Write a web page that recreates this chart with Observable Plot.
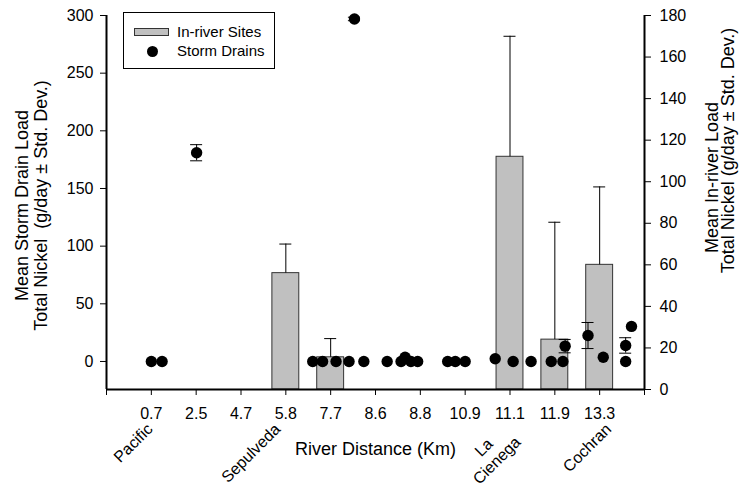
<!DOCTYPE html>
<html>
<head>
<meta charset="utf-8">
<script src="https://cdn.jsdelivr.net/npm/d3@7"></script>
<script src="https://cdn.jsdelivr.net/npm/@observablehq/plot@0.6"></script>
<style>
  html, body { margin: 0; padding: 0; background: white; }
  #wrap { position: relative; width: 740px; height: 487px; font-family: "Liberation Sans", Arial, sans-serif; }
  #legend { position: absolute; left: 123px; top: 12px; width: 150px; height: 55px; border: 1px solid black; background: white; font-size: 15px; }
  #legend .sw { position: absolute; left: 10px; top: 15px; width: 33px; height: 6px; background: #c0c0c0; border: 1px solid #333; }
  #legend .dot { position: absolute; left: 23px; top: 33px; width: 11px; height: 11px; border-radius: 50%; background: black; }
  #legend .t1 { position: absolute; left: 53px; top: 10px; }
  #legend .t2 { position: absolute; left: 53px; top: 29px; }
</style>
</head>
<body>
<div id="wrap"></div>
<script>
// x-axis tick labels (river distance, km) at index positions 1..11
const xLabels = ["0.7", "2.5", "4.7", "5.8", "7.7", "8.6", "8.8", "10.9", "11.1", "11.9", "13.3"];

// In-river sites (right axis, g/day)
const inriverSite = ["5.8", "7.7", "11.1", "11.9", "13.3"];
const inriverMean = [56, 15.5, 112, 24, 60];
const inriverSD   = [14, 9, 58, 56.5, 37.5];

// Storm drains (left axis, g/day); position in axis index units
const drainPos  = [1.0, 1.24, 2.01, 4.60, 4.82, 5.12, 5.41, 5.53, 5.74, 6.26, 6.57, 6.66, 6.79, 6.94, 7.61, 7.78, 8.0, 8.67, 9.07, 9.47, 9.92, 10.18, 10.23, 10.74, 11.08, 11.58, 11.58, 11.71];
const drainMean = [0, 0, 181, 0, 0, 0, 0, 297, 0, 0, 0, 3.7, 0, 0, 0, 0, 0, 2.3, 0, 0, 0, 0, 13.3, 22.5, 3.7, 13.9, 0, 30.4];
const drainSD   = [0, 0, 7, 0, 0, 0, 0, 1.5, 0, 0, 0, 0, 0, 0, 0, 0, 0, 0, 0, 0, 0, 0, 5.8, 11.3, 0, 6.7, 0, 0];

// Station names along the river
const stationName = ["Pacific", "Sepulveda", "Cochran"];
const stationPos  = [0.97, 3.82, 11.2];
const station2Name = ["La\nCienega"];
const station2Pos  = [8.55];

const leftTicks  = d3.range(0, 301, 50);
const rightTicks = d3.range(0, 181, 20);

// axis ranges
const leftMin = -24.3, leftMax = 300;
const rightMin = 0, rightMax = 180;
const toLeft = r => leftMin + (r - rightMin) * (leftMax - leftMin) / (rightMax - rightMin);
const toRight = l => rightMin + (l - leftMin) * (rightMax - rightMin) / (leftMax - leftMin);

const bars = inriverSite.map((s, i) => ({x: xLabels.indexOf(s) + 1, mean: inriverMean[i], sd: inriverSD[i]}));
const drains = drainPos.map((p, i) => ({x: p, mean: drainMean[i], sd: drainSD[i]}));
const drainsErr = drains.filter(d => d.sd > 0);
const stations = stationName.map((n, i) => ({name: n, x: stationPos[i]}));
const stations2 = station2Name.map((n, i) => ({name: n, x: station2Pos[i]}));

const hw = 0.3, cap = 0.134;

const chart = Plot.plot({
  width: 740,
  height: 487,
  marginTop: 15,
  marginBottom: 98,
  marginLeft: 106,
  marginRight: 96,
  x: {domain: [0, 12]},
  y: {domain: [leftMin, leftMax]},
  style: {fontFamily: "Liberation Sans, Arial, sans-serif", fontSize: "16px", color: "black", background: "white", overflow: "visible"},
  marks: [
    // in-river bars
    Plot.rectY(bars, {x1: d => d.x - hw, x2: d => d.x + hw, y1: leftMin, y2: d => toLeft(d.mean), fill: "#c0c0c0", stroke: "#333", strokeWidth: 1}),
    Plot.ruleX(bars, {x: "x", y1: d => toLeft(d.mean), y2: d => toLeft(d.mean + d.sd), stroke: "black", strokeWidth: 1}),
    Plot.ruleY(bars, {y: d => toLeft(d.mean + d.sd), x1: d => d.x - cap, x2: d => d.x + cap, stroke: "black", strokeWidth: 1}),
    // storm drain error bars
    Plot.ruleX(drainsErr, {x: "x", y1: d => d.mean - d.sd, y2: d => d.mean + d.sd, stroke: "black", strokeWidth: 1}),
    Plot.ruleY(drainsErr, {y: d => d.mean + d.sd, x1: d => d.x - cap, x2: d => d.x + cap, stroke: "black", strokeWidth: 1}),
    Plot.ruleY(drainsErr, {y: d => d.mean - d.sd, x1: d => d.x - cap, x2: d => d.x + cap, stroke: "black", strokeWidth: 1}),
    // storm drain dots
    Plot.dot(drains, {x: "x", y: "mean", r: 5.7, fill: "black", stroke: "none"}),
    // axes
    Plot.axisY(leftTicks, {anchor: "left", tickSize: 6, tickPadding: 7, label: null, fontSize: 16}),
    Plot.axisY(rightTicks.map(toLeft), {anchor: "right", tickSize: 6, tickPadding: 9, label: null, fontSize: 16, tickFormat: d => String(Math.round(toRight(d)))}),
    Plot.axisX(d3.range(0, 13), {anchor: "bottom", tickSize: 6, tickPadding: 12, label: null, fontSize: 16, tickFormat: i => xLabels[i - 1] ?? ""}),
    Plot.ruleX([0, 12], {y1: leftMin, y2: leftMax, stroke: "black", strokeWidth: 2}),
    Plot.ruleY([leftMin], {x1: 0, x2: 12, stroke: "black", strokeWidth: 2}),
    // axis titles
    Plot.text(["Mean Storm Drain Load\nTotal Nickel  (g/day ± Std. Dev.)"], {frameAnchor: "left", textAnchor: "middle", rotate: -90, dx: -75, dy: 3, fontSize: 18, lineHeight: 1.05, fill: "black"}),
    Plot.text(["Mean In-river Load"], {frameAnchor: "right", textAnchor: "middle", rotate: -90, dx: 68, dy: -25, fontSize: 18, fill: "black"}),
    Plot.text(["Total Nickel (g/day ± Std. Dev.)"], {frameAnchor: "right", textAnchor: "middle", rotate: -90, dx: 84, dy: -52, fontSize: 18, fill: "black"}),
    Plot.text(["River Distance (Km)"], {frameAnchor: "bottom", dy: 65, fontSize: 18, fill: "black"}),
    // station names
    Plot.text(stations, {x: "x", y: leftMin, text: "name", rotate: -45, textAnchor: "end", dy: 37, fontSize: 16, fill: "black"}),
    Plot.text(stations2, {x: "x", y: leftMin, text: "name", rotate: -45, textAnchor: "middle", dy: 64, fontSize: 16, lineHeight: 1.15, fill: "black"})
  ]
});

const wrap = document.getElementById("wrap");
wrap.appendChild(chart);
const legend = document.createElement("div");
legend.id = "legend";
legend.innerHTML = '<div class="sw"></div><div class="t1">In-river Sites</div><div class="dot"></div><div class="t2">Storm Drains</div>';
wrap.appendChild(legend);
</script>
</body>
</html>
